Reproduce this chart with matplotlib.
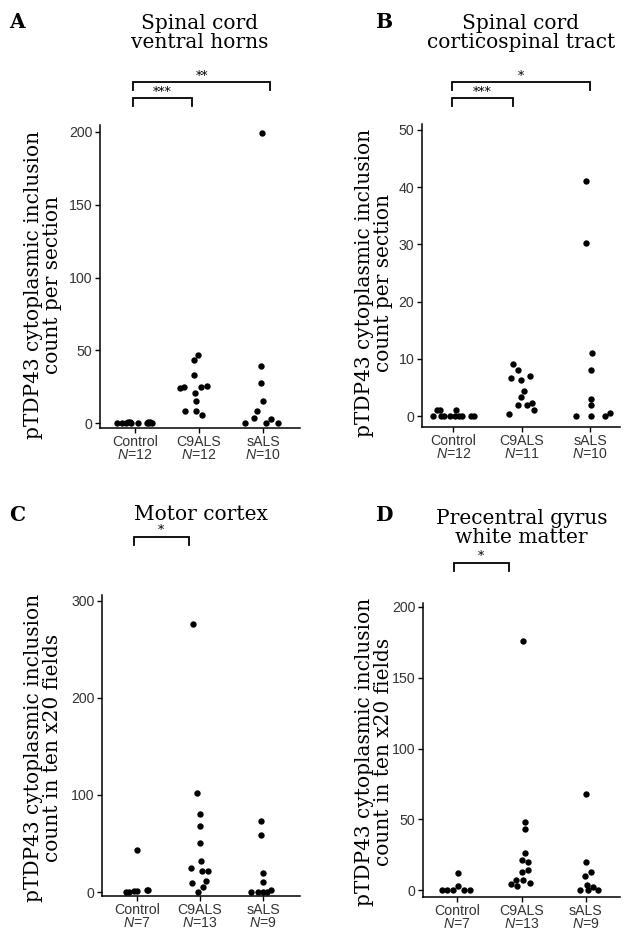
import numpy as np
import matplotlib
matplotlib.use("Agg")
import matplotlib.pyplot as plt
import matplotlib.transforms as mtransforms

plt.rcParams['font.family'] = ['Liberation Sans', 'DejaVu Sans']
plt.rcParams['mathtext.fontset'] = 'custom'
plt.rcParams['mathtext.it'] = 'Liberation Sans:italic'
plt.rcParams['mathtext.rm'] = 'Liberation Sans'

W, H = 627, 932
SERIF = ['DejaVu Serif']

groups = ["Control", "C9ALS", "sALS"]

# ---- A: spinal cord ventral horns
a_n = [12, 12, 10]
a_ctrl = [0, 0, 0, 1, 1, 0, 0, 0, 1, 1, 0, 0]
a_ctrl_dx = [-18, -13, -9, -7, -5, -4, 3, 12, 13, 15, 17, 14]
a_c9 = [46.7, 43, 32.9, 24.1, 25.1, 20.9, 25, 25.7, 15.4, 8.5, 8.5, 5.5]
a_c9_dx = [-1, -5, -5, -19, -15, -4, 2, 8, -3, -14, -3, 3]
a_sals = [199, 38.9, 27.4, 15.2, 8.3, 3.4, 0, 0, 3, 0]
a_sals_dx = [-1, -2, -2, 0, -6, -9, -18, 3, 8, 15]

# ---- B: spinal cord corticospinal tract
b_n = [12, 11, 10]
b_ctrl = [1, 1, 1, 0, 0, 0, 0, 0, 0, 0, 0, 0]
b_ctrl_dx = [-15.7, -12.3, 2.3, -19, -11.7, -8.3, -2.7, 1.7, 5.7, 8.3, 16.7, 19.3]
b_c9 = [9.1, 8.0, 6.7, 6.3, 7.0, 4.4, 3.3, 2.0, 2.0, 2.3, 1.0, 0.3]
b_c9_dx = [-7.7, -3.7, -9.7, -0.3, 8, 2.7, -0.7, -3.7, 4.7, 9.3, 11.7, -12]
b_sals = [41, 30.3, 11, 8, 3, 2, 0, 0, 0, 0.6]
b_sals_dx = [-3.3, -3.3, 2, 1.3, 0.7, 0.7, 0.7, -12.7, 14.3, 19]

# ---- C: motor cortex
c_n = [7, 13, 9]
c_ctrl = [43, 0, 0, 1, 1, 2, 2]
c_ctrl_dx = [0, -10.7, -7.3, -2.7, 0.3, 10, 11.7]
c_c9 = [276.5, 102, 80, 67.6, 50.9, 31.7, 24.9, 21.8, 21.8, 9.2, 10.9, 5.5, 0]
c_c9_dx = [-6.7, -2.7, 0, 0, 0, 0.7, -8.7, 2, 8, -7.7, 5.7, 3.3, -2]
c_sals = [73, 58.7, 19.8, 9.9, 0, 0, 0, 0, 2]
c_sals_dx = [-2.3, -2.3, -0.3, -0.7, -12, -5.7, 0, 4, 8.3]

# ---- D: precentral gyrus white matter
d_n = [7, 13, 9]
d_ctrl = [0, 0, 0, 3, 0, 0, 12]
d_ctrl_dx = [-15.7, -10, -4, 1, 6.7, 12.7, 1]
d_c9 = [176, 48, 43, 26, 20.9, 20, 13, 14.2, 7.2, 7.2, 4.2, 3, 5.1]
d_c9_dx = [1, 3.3, 3.3, 3.7, 0, 6.7, 0, 6, -5.7, 1, -10.7, -4.3, 8.3]
d_sals = [68, 20, 13, 10, 3.3, 0, 0, 2.3, 0]
d_sals_dx = [0, -0.3, 5, -1, 1, -6, 2.3, 6.7, 12.3]

ylab_section = "pTDP43 cytoplasmic inclusion\ncount per section"
ylab_fields = "pTDP43 cytoplasmic inclusion\ncount in ten x20 fields"

panels = [
    dict(letter="A", title="Spinal cord\nventral horns", n=a_n,
         vals=[a_ctrl, a_c9, a_sals], dx=[a_ctrl_dx, a_c9_dx, a_sals_dx],
         box=(100, 300, 125, 428), xlim=(0.453, 3.578), ylim=(-3.4, 204.8),
         yticks=[0, 50, 100, 150, 200], ylabel=ylab_section, ylab_pos=(43, 285),
         brackets=[(0.97, 1.89, 98, "***"), (0.97, 3.11, 82, "**")],
         title_y=33, letter_pos=(17, 22)),
    dict(letter="B", title="Spinal cord\ncorticospinal tract", n=b_n,
         vals=[b_ctrl, b_c9, b_sals], dx=[b_ctrl_dx, b_c9_dx, b_sals_dx],
         box=(422, 620, 124, 427), xlim=(0.542, 3.44), ylim=(-1.9, 51.0),
         yticks=[0, 10, 20, 30, 40, 50], ylabel=ylab_section, ylab_pos=(374, 283),
         brackets=[(0.98, 1.88, 98, "***"), (0.98, 3.0, 82, "*")],
         title_y=33, letter_pos=(385, 22)),
    dict(letter="C", title="Motor cortex", n=c_n,
         vals=[c_ctrl, c_c9, c_sals], dx=[c_ctrl_dx, c_c9_dx, c_sals_dx],
         box=(102, 300, 595, 896), xlim=(0.452, 3.58), ylim=(-4.1, 306),
         yticks=[0, 100, 200, 300], ylabel=ylab_fields, ylab_pos=(43, 748),
         brackets=[(0.95, 1.82, 537, "*")],
         title_y=515, letter_pos=(17, 515)),
    dict(letter="D", title="Precentral gyrus\nwhite matter", n=d_n,
         vals=[d_ctrl, d_c9, d_sals], dx=[d_ctrl_dx, d_c9_dx, d_sals_dx],
         box=(423, 620, 603, 897), xlim=(0.467, 3.53), ylim=(-4.9, 202.8),
         yticks=[0, 50, 100, 150, 200], ylabel=ylab_fields, ylab_pos=(374, 752),
         brackets=[(0.95, 1.8, 563, "*")],
         title_y=528, letter_pos=(385, 515)),
]

fig = plt.figure(figsize=(W / 100, H / 100), dpi=100)

for p in panels:
    l, r, t, b = p["box"]
    ax = fig.add_axes([l / W, 1 - b / H, (r - l) / W, (b - t) / H])
    for i, (v, d) in enumerate(zip(p["vals"], p["dx"])):
        x = (i + 1) + np.array(d) / 64.0
        ax.scatter(x, v, s=21, color="black", zorder=3, clip_on=False, linewidths=0)
    ax.set_xlim(*p["xlim"])
    ax.set_ylim(*p["ylim"])
    ax.set_yticks(p["yticks"])
    ax.set_xticks([1, 2, 3])
    ax.set_xticklabels(["%s\n$N$=%d" % (g, n) for g, n in zip(groups, p["n"])],
                       linespacing=0.9)
    for s in ["top", "right"]:
        ax.spines[s].set_visible(False)
    for s in ["left", "bottom"]:
        ax.spines[s].set_linewidth(1.1)
    ax.tick_params(axis="both", length=3.5, width=1.0, labelsize=10.2,
                   labelcolor="#333333", pad=2)
    ax.tick_params(axis="x", pad=1.5)

    # titles, labels, panel letters
    fig.text(l / W + (r - l) / W / 2, 1 - p["title_y"] / H, p["title"],
             ha="center", va="center", fontsize=14.5, family=SERIF, linespacing=1.05)
    fig.text(p["letter_pos"][0] / W, 1 - p["letter_pos"][1] / H, p["letter"],
             ha="center", va="center", fontsize=14.5, family=SERIF, weight="bold")
    fig.text(p["ylab_pos"][0] / W, 1 - p["ylab_pos"][1] / H, p["ylabel"],
             ha="center", va="center", rotation=90, fontsize=14.5,
             family=SERIF, linespacing=0.95)

    # significance brackets
    tr = mtransforms.blended_transform_factory(ax.transData, fig.transFigure)
    for x0, x1, ypx, stars in p["brackets"]:
        y = 1 - ypx / H
        yd = 1 - (ypx + 8) / H
        ax.plot([x0, x0, x1, x1], [yd, y, y, yd], color="black", lw=1.3,
                transform=tr, clip_on=False, solid_joinstyle="miter")
        ax.text((x0 + x1) / 2, 1 - (ypx - 6) / H, stars, transform=tr,
                ha="center", va="center", fontsize=9, family=SERIF)

fig.savefig("out.png", dpi=100)
